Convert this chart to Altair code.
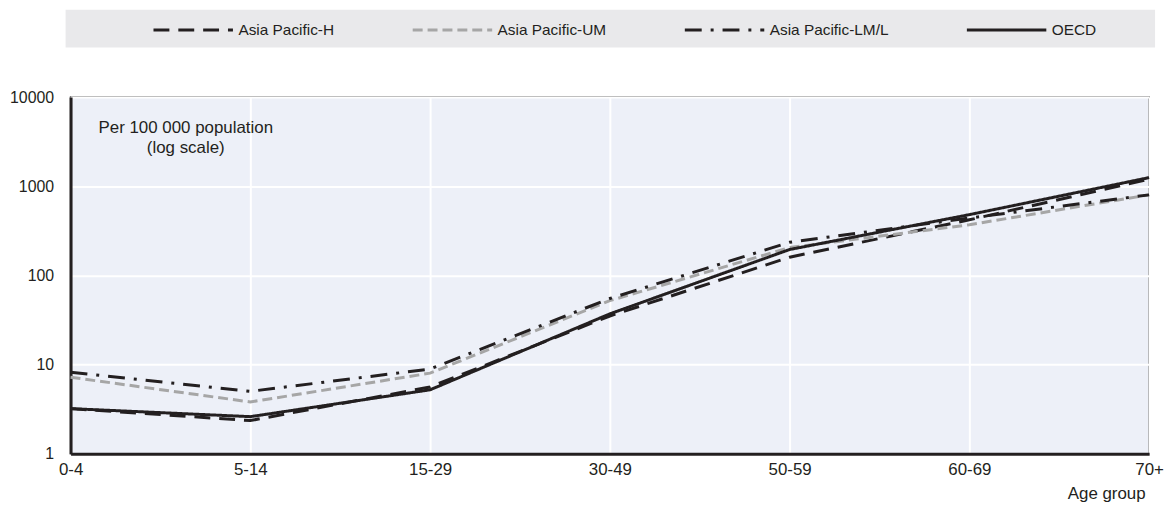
import altair as alt
import pandas as pd

age_groups = ["0-4", "5-14", "15-29", "30-49", "50-59", "60-69", "70+"]
series_names = ["Asia Pacific-H", "Asia Pacific-UM", "Asia Pacific-LM/L", "OECD"]
apac_h = [3.2, 2.35, 5.6, 35, 160, 420, 1200]
apac_um = [7.2, 3.8, 8.0, 52, 205, 370, 800]
apac_lml = [8.2, 5.0, 8.9, 55, 235, 440, 800]
oecd = [3.2, 2.6, 5.2, 37, 195, 480, 1250]

FONT = "Liberation Sans, Arial, sans-serif"
DARK = "#231f20"

rows = []
for name, vals in zip(series_names, [apac_h, apac_um, apac_lml, oecd]):
    for a, v in zip(age_groups, vals):
        rows.append({"Age group": a, "Series": name, "Value": v})
df = pd.DataFrame(rows)

W, H = 1086, 359

x = alt.X(
    "Age group:N",
    sort=age_groups,
    scale=alt.Scale(domain=age_groups, range=[0, W], padding=0),
    axis=alt.Axis(
        title="Age group",
        labelAngle=0,
        labelFontSize=17,
        labelFont=FONT,
        labelColor=DARK,
        labelPadding=8,
        tickSize=0,
        domainColor=DARK,
        domainWidth=3,
        gridColor="white",
        gridWidth=2,
        grid=True,
        titleFont=FONT,
        titleFontSize=17,
        titleFontWeight="normal",
        titleColor=DARK,
        titleAlign="right",
        titleAnchor="end",
        titleX=1082,
        titleY=40,
        titleBaseline="middle",
    ),
)
y = alt.Y(
    "Value:Q",
    scale=alt.Scale(type="log", domain=[1, 10000]),
    axis=alt.Axis(
        title=None,
        values=[1, 10, 100, 1000, 10000],
        format="d",
        labelFontSize=16,
        labelFont=FONT,
        labelColor=DARK,
        labelPadding=17,
        tickSize=0,
        domainColor=DARK,
        domainWidth=3,
        gridColor="white",
        gridWidth=2,
    ),
)

color = alt.Color(
    "Series:N",
    sort=series_names,
    scale=alt.Scale(domain=series_names, range=[DARK, "#a6a6a6", DARK, DARK]),
    legend=alt.Legend(
        title=None,
        orient="none",
        legendX=82,
        legendY=-109,
        direction="horizontal",
        columns=4,
        columnPadding=72,
        symbolType="stroke",
        symbolSize=6400,
        symbolStrokeWidth=3,
        labelFont=FONT,
        labelFontSize=15.5,
        labelColor=DARK,
        labelOffset=4,
        labelLimit=300,
    ),
)
dash = alt.StrokeDash(
    "Series:N",
    sort=series_names,
    scale=alt.Scale(
        domain=series_names,
        range=[[16, 9], [10, 5], [17, 9, 3, 9], [1, 0]],
    ),
    legend=None,
)

lines = alt.Chart(df).mark_line(strokeWidth=3).encode(
    x=x, y=y, color=color, strokeDash=dash, order=alt.Order("Series:N")
)

band = alt.Chart(pd.DataFrame({"a": [0]})).mark_rect(color="#e9e9eb").encode(
    x=alt.value(-5), x2=alt.value(1092), y=alt.value(-88), y2=alt.value(-50)
)

note = alt.Chart(pd.DataFrame({"t": [["Per 100 000 population", "(log scale)"]]})).mark_text(
    font=FONT, fontSize=17, color=DARK, align="center", baseline="middle", lineHeight=20
).encode(x=alt.value(116), y=alt.value(31), text="t")

chart = (
    alt.layer(band, lines, note)
    .properties(
        width=W,
        height=H,
        padding={"left": 63, "top": 88, "right": 16, "bottom": 51},
        autosize=alt.AutoSizeParams(type="none"),
        background="white",
    )
    .configure_view(fill="#edf0f8", stroke="#555555", strokeWidth=1.5)
)

chart.save("out.html", embed_options={"renderer": "svg", "actions": False})
